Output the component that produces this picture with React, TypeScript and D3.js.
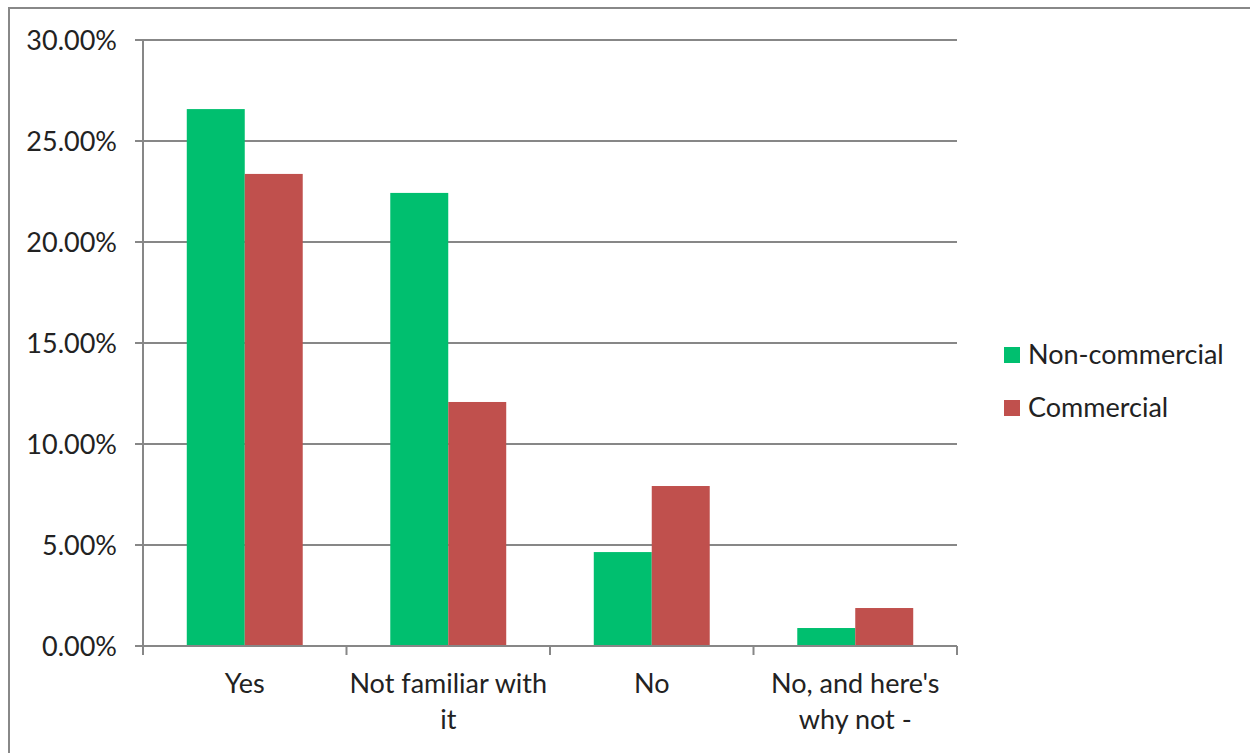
import React from "react";
import * as d3 from "d3";

const categories: string[][] = [["Yes"], ["Not familiar with", "it"], ["No"], ["No, and here's", "why not -"]];
const seriesNames = ["Non-commercial", "Commercial"];
const nonCommercial = [0.2658, 0.2243, 0.0465, 0.0089];
const commercial = [0.2337, 0.1208, 0.0792, 0.0188];
const yTicks = [0, 0.05, 0.1, 0.15, 0.2, 0.25, 0.3];
const colors = ["#00BF6F", "#C0504D"];

const W = 1250, H = 753;
const left = 143, right = 957, top = 40, bottom = 646;
const FONT = "Lato, 'Open Sans', sans-serif";
const FS = 27;

export default function App() {
  const keys = categories.map((c) => c.join(" "));
  const x = d3.scaleBand<string>().domain(keys).range([left, right]).padding(0);
  const xs = d3.scaleBand<string>().domain(seriesNames).range([0, x.bandwidth()]).paddingInner(0).paddingOuter(0.755);
  const y = d3.scaleLinear().domain([0, 0.3]).range([bottom, top]);
  const fmt = d3.format(".2%");
  const data = [nonCommercial, commercial];
  const boundaries = keys.map((k) => x(k) as number).concat([right]);

  return (
    <svg width={W} height={H} style={{ position: "absolute", left: 0, top: 0, fontFamily: FONT }}>
      <rect x={0} y={0} width={W} height={H} fill="#fff" />
      <rect x={9} y={8} width={W + 10} height={H + 10} fill="none" stroke="#888" strokeWidth={2} />
      {yTicks.map((t) => (
        <g key={t}>
          <line x1={left - 8} x2={right} y1={y(t)} y2={y(t)} stroke="#878787" strokeWidth={2} />
          <text x={117} y={y(t) + 10} textAnchor="end" fontSize={FS} fill="#222">{fmt(t)}</text>
        </g>
      ))}
      {data.map((vals, si) =>
        vals.map((v, i) => (
          <rect
            key={si + "-" + i}
            x={(x(keys[i]) as number) + (xs(seriesNames[si]) as number)}
            y={y(v)}
            width={xs.bandwidth()}
            height={bottom - y(v)}
            fill={colors[si]}
          />
        ))
      )}
      <line x1={left} x2={left} y1={top} y2={bottom + 8} stroke="#878787" strokeWidth={2} />
      <line x1={left} x2={right} y1={bottom} y2={bottom} stroke="#878787" strokeWidth={2} />
      {boundaries.map((b, i) => (
        <line key={i} x1={b} x2={b} y1={bottom} y2={bottom + 9} stroke="#878787" strokeWidth={2} />
      ))}
      {categories.map((lines, i) => (
        <text key={i} textAnchor="middle" fontSize={FS} fill="#222">
          {lines.map((ln, j) => (
            <tspan key={j} x={(x(keys[i]) as number) + x.bandwidth() / 2} y={693 + j * 36}>{ln}</tspan>
          ))}
        </text>
      ))}
      {seriesNames.map((s, i) => (
        <g key={s}>
          <rect x={1004} y={347 + i * 53} width={16} height={16} fill={colors[i]} />
          <text x={1028} y={364 + i * 53} fontSize={FS} fill="#222">{s}</text>
        </g>
      ))}
    </svg>
  );
}
